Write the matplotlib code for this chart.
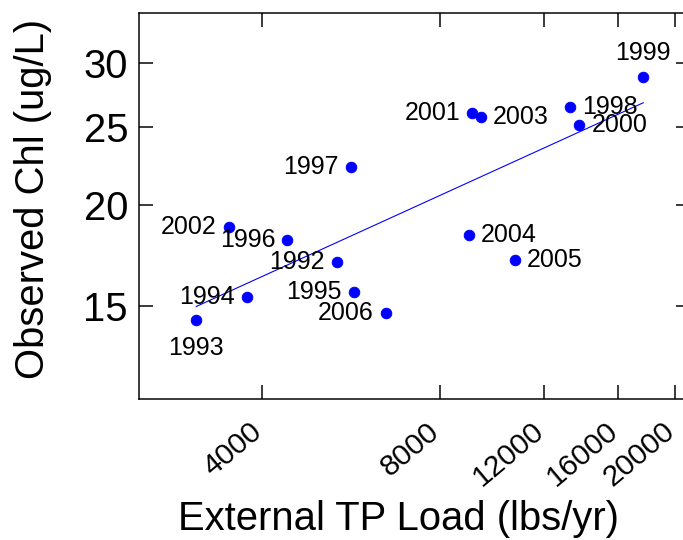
import numpy as np
import matplotlib
matplotlib.use("Agg")
import matplotlib.pyplot as plt
from matplotlib.ticker import FixedLocator, NullLocator, NullFormatter

# ---- data ----
years = [1992, 1993, 1994, 1995, 1996, 1997, 1998, 1999, 2000,
         2001, 2002, 2003, 2004, 2005, 2006]
tp_load = [5352, 3095, 3774, 5715, 4414, 5652, 13294, 17663, 13777,
           9072, 3514, 9373, 8959, 10712, 6478]
chl = [16.99, 14.41, 15.40, 15.60, 18.09, 22.28, 26.45, 28.83, 25.14,
       26.04, 18.79, 25.75, 18.37, 17.10, 14.69]
# label side: 1=below, 2=left, 3=above, 4=right (R 'pos')
label_pos = [2, 1, 2, 2, 2, 2, 4, 3, 4, 2, 2, 4, 4, 4, 2]

x_ticks = [4000, 8000, 12000, 16000, 20000]
y_ticks = [15, 20, 25, 30]

W, H, DPI = 683, 540, 72
plt.rcParams['font.family'] = ['Liberation Sans', 'DejaVu Sans']

fig = plt.figure(figsize=(W / DPI, H / DPI), dpi=DPI)
# axes box in pixels: left 139, right ~690 (beyond image), top 13, bottom 399
L, R, T, B = 139, 690, 13, 399
ax = fig.add_axes([L / W, (H - B) / H, (R - L) / W, (B - T) / H])
ax.set_xscale('log')
ax.set_yscale('log')
ax.set_xlim(2477, 21190)
ax.set_ylim(11.5, 34.6)

blue = '#0000ff'
ax.plot(tp_load, chl, 'o', color=blue, ms=10.5, mec=blue, zorder=3,
        clip_on=False)

# log-log least squares fit line
lx = np.log10(tp_load)
ly = np.log10(chl)
slope, intercept = np.polyfit(lx, ly, 1)
xs = np.array([min(tp_load), max(tp_load)])
ax.plot(xs, 10 ** (intercept + slope * np.log10(xs)), color=blue, lw=1.1,
        zorder=2)

off = 12
for yr, x, y, p in zip(years, tp_load, chl, label_pos):
    if p == 1:
        kw = dict(xytext=(0, -off - 4), ha='center', va='top')
    elif p == 2:
        kw = dict(xytext=(-off, 0), ha='right', va='center')
    elif p == 3:
        kw = dict(xytext=(0, off), ha='center', va='bottom')
    else:
        kw = dict(xytext=(off, 0), ha='left', va='center')
    ax.annotate(str(yr), (x, y), textcoords='offset points', fontsize=25,
                color='black', **kw)

for s in ax.spines.values():
    s.set_linewidth(1.5)
    s.set_color('black')

ax.xaxis.set_major_locator(FixedLocator(x_ticks))
ax.xaxis.set_minor_locator(NullLocator())
ax.xaxis.set_minor_formatter(NullFormatter())
ax.yaxis.set_major_locator(FixedLocator(y_ticks))
ax.yaxis.set_minor_locator(NullLocator())
ax.yaxis.set_minor_formatter(NullFormatter())
ax.set_yticklabels([str(v) for v in y_ticks])
ax.set_xticklabels([])
ax.tick_params(which='major', direction='in', length=14, width=1.5,
               top=True, right=True, labelsize=40, pad=11)

for xt in x_ticks:
    ax.annotate(str(xt), (xt, 0), xycoords=('data', 'axes fraction'),
                xytext=(-13, -18), textcoords='offset points',
                rotation=40, rotation_mode='anchor', ha='right', va='top',
                fontsize=30, annotation_clip=False)

fig.text(398 / W, 1 - 519 / H, 'External TP Load (lbs/yr)', fontsize=40,
         ha='center', va='center')
fig.text(33 / W, 1 - 199 / H, 'Observed Chl (ug/L)', fontsize=40,
         rotation=90, ha='center', va='center')

fig.savefig('out.png', dpi=DPI)
